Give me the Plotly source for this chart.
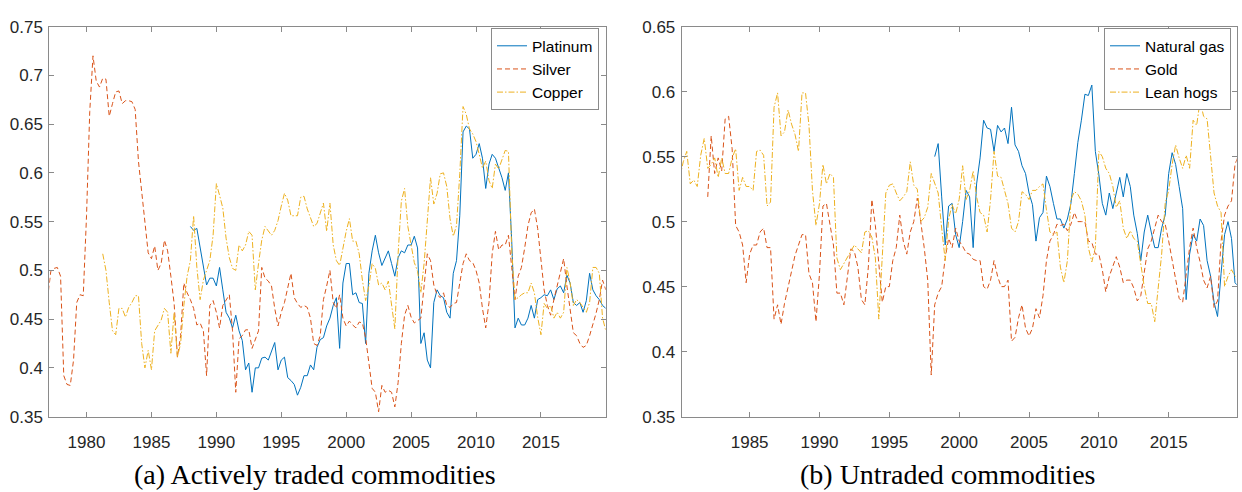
import pandas as pd
import plotly.graph_objects as go

# ---------------- data (quarterly readings) ----------------
silver_start = "1977-01-01"
silver = [
    0.471, 0.499, 0.502, 0.503,  # 1977
    0.494, 0.392, 0.383, 0.382,  # 1978
    0.408, 0.467, 0.475, 0.474,  # 1979
    0.556, 0.663, 0.720, 0.694,  # 1980
    0.688, 0.697, 0.696, 0.658,  # 1981
    0.671, 0.683, 0.684, 0.671,  # 1982
    0.674, 0.674, 0.673, 0.665,  # 1983
    0.612, 0.582, 0.548, 0.518,  # 1984
    0.512, 0.525, 0.500, 0.507,  # 1985
    0.531, 0.520, 0.494, 0.466,  # 1986
    0.411, 0.433, 0.487, 0.477,  # 1987
    0.470, 0.461, 0.444, 0.446,  # 1988
    0.438, 0.392, 0.464, 0.469,  # 1989
    0.457, 0.441, 0.464, 0.470,  # 1990
    0.475, 0.438, 0.375, 0.430,  # 1991
    0.433, 0.439, 0.439, 0.420,  # 1992
    0.430, 0.438, 0.503, 0.492,  # 1993
    0.489, 0.484, 0.461, 0.443,  # 1994
    0.457, 0.467, 0.482, 0.497,  # 1995
    0.472, 0.466, 0.462, 0.464,  # 1996
    0.462, 0.451, 0.425, 0.423,  # 1997
    0.433, 0.470, 0.484, 0.500,  # 1998
    0.467, 0.461, 0.475, 0.451,  # 1999
    0.443, 0.448, 0.444, 0.441,  # 2000
    0.447, 0.446, 0.431, 0.402,  # 2001
    0.379, 0.375, 0.355, 0.382,  # 2002
    0.375, 0.377, 0.375, 0.360,  # 2003
    0.385, 0.425, 0.454, 0.464,  # 2004
    0.452, 0.446, 0.449, 0.451,  # 2005
    0.484, 0.517, 0.510, 0.485,  # 2006
    0.475, 0.472, 0.477, 0.464,  # 2007
    0.462, 0.466, 0.467, 0.487,  # 2008
    0.507, 0.517, 0.510, 0.508,  # 2009
    0.500, 0.487, 0.461, 0.441,  # 2010
    0.467, 0.517, 0.540, 0.521,  # 2011
    0.526, 0.526, 0.536, 0.503,  # 2012
    0.470, 0.494, 0.503, 0.523,  # 2013
    0.546, 0.559, 0.563, 0.543,  # 2014
    0.513, 0.480, 0.464, 0.454,  # 2015
    0.470, 0.484, 0.500, 0.512,  # 2016
    0.484, 0.461, 0.436, 0.433,  # 2017
    0.425, 0.421, 0.423, 0.433,  # 2018
    0.444, 0.456, 0.470, 0.490,  # 2019
    0.480,
]

platinum_start = "1988-01-01"
platinum = [
    0.545, 0.541, 0.543, 0.523,  # 1988
    0.500, 0.485, 0.492, 0.492,  # 1989
    0.484, 0.503, 0.480, 0.457,  # 1990
    0.451, 0.441, 0.454, 0.438,  # 1991
    0.428, 0.398, 0.405, 0.375,  # 1992
    0.400, 0.400, 0.410, 0.411,  # 1993
    0.408, 0.416, 0.426, 0.398,  # 1994
    0.408, 0.411, 0.390, 0.387,  # 1995
    0.383, 0.372, 0.380, 0.392,  # 1996
    0.392, 0.403, 0.398, 0.421,  # 1997
    0.429, 0.431, 0.443, 0.451,  # 1998
    0.464, 0.472, 0.420, 0.487,  # 1999
    0.507, 0.507, 0.475, 0.477,  # 2000
    0.467, 0.466, 0.425, 0.497,  # 2001
    0.520, 0.536, 0.518, 0.505,  # 2002
    0.512, 0.520, 0.507, 0.494,  # 2003
    0.513, 0.520, 0.518, 0.526,  # 2004
    0.526, 0.535, 0.523, 0.425,  # 2005
    0.436, 0.408, 0.400, 0.467,  # 2006
    0.480, 0.474, 0.472, 0.457,  # 2007
    0.451, 0.497, 0.510, 0.556,  # 2008
    0.642, 0.648, 0.645, 0.615,  # 2009
    0.619, 0.630, 0.615, 0.584,  # 2010
    0.609, 0.619, 0.615, 0.605,  # 2011
    0.595, 0.582, 0.600, 0.530,  # 2012
    0.441, 0.451, 0.444, 0.444,  # 2013
    0.451, 0.464, 0.451, 0.470,  # 2014
    0.472, 0.475, 0.474, 0.480,  # 2015
    0.470, 0.481, 0.484, 0.477,  # 2016
    0.495, 0.487, 0.467, 0.464,  # 2017
    0.467, 0.457, 0.469, 0.497,  # 2018
    0.480, 0.474, 0.470, 0.464,  # 2019
    0.461,
]

copper_start = "1981-04-01"
copper = [
    0.517, 0.500, 0.467,         # 1981
    0.438, 0.434, 0.461, 0.461,  # 1982
    0.452, 0.462, 0.467, 0.474,  # 1983
    0.474, 0.425, 0.400, 0.418,  # 1984
    0.398, 0.438, 0.444, 0.449,  # 1985
    0.461, 0.457, 0.415, 0.457,  # 1986
    0.411, 0.425, 0.464, 0.494,  # 1987
    0.510, 0.556, 0.503, 0.470,  # 1988
    0.490, 0.499, 0.510, 0.536,  # 1989
    0.589, 0.577, 0.564, 0.533,  # 1990
    0.513, 0.502, 0.500, 0.526,  # 1991
    0.520, 0.526, 0.540, 0.536,  # 1992
    0.480, 0.507, 0.531, 0.545,  # 1993
    0.540, 0.536, 0.541, 0.551,  # 1994
    0.566, 0.579, 0.572, 0.556,  # 1995
    0.556, 0.556, 0.575, 0.576,  # 1996
    0.563, 0.554, 0.545, 0.548,  # 1997
    0.559, 0.569, 0.540, 0.569,  # 1998
    0.526, 0.510, 0.505, 0.523,  # 1999
    0.540, 0.553, 0.530, 0.530,  # 2000
    0.517, 0.490, 0.469, 0.484,  # 2001
    0.507, 0.502, 0.485, 0.487,  # 2002
    0.480, 0.489, 0.464, 0.440,  # 2003
    0.517, 0.571, 0.584, 0.545,  # 2004
    0.526, 0.508, 0.499, 0.477,  # 2005
    0.507, 0.549, 0.595, 0.568,  # 2006
    0.579, 0.599, 0.600, 0.586,  # 2007
    0.553, 0.535, 0.546, 0.599,  # 2008
    0.668, 0.660, 0.645, 0.640,  # 2009
    0.632, 0.619, 0.605, 0.612,  # 2010
    0.592, 0.584, 0.609, 0.604,  # 2011
    0.614, 0.623, 0.622, 0.520,  # 2012
    0.470, 0.472, 0.475, 0.477,  # 2013
    0.477, 0.487, 0.477, 0.452,  # 2014
    0.434, 0.466, 0.461, 0.464,  # 2015
    0.451, 0.457, 0.451, 0.457,  # 2016
    0.503, 0.487, 0.464, 0.470,  # 2017
    0.467, 0.462, 0.457, 0.467,  # 2018
    0.503, 0.503, 0.497, 0.451,  # 2019
    0.438,
]

natgas_start = "1998-04-01"
natural_gas = [
    0.550, 0.560, 0.519,         # 1998
    0.482, 0.512, 0.514, 0.490,  # 1999
    0.480, 0.500, 0.524, 0.519,  # 2000
    0.480, 0.529, 0.549, 0.578,  # 2001
    0.572, 0.571, 0.554, 0.574,  # 2002
    0.569, 0.572, 0.560, 0.588,  # 2003
    0.559, 0.554, 0.543, 0.537,  # 2004
    0.522, 0.513, 0.485, 0.503,  # 2005
    0.507, 0.535, 0.527, 0.514,  # 2006
    0.502, 0.502, 0.495, 0.502,  # 2007
    0.514, 0.537, 0.561, 0.578,  # 2008
    0.598, 0.597, 0.605, 0.554,  # 2009
    0.536, 0.514, 0.505, 0.522,  # 2010
    0.510, 0.522, 0.534, 0.519,  # 2011
    0.537, 0.527, 0.505, 0.491,  # 2012
    0.470, 0.492, 0.505, 0.492,  # 2013
    0.480, 0.480, 0.495, 0.505,  # 2014
    0.537, 0.553, 0.544, 0.527,  # 2015
    0.510, 0.440, 0.475, 0.490,  # 2016
    0.485, 0.502, 0.497, 0.470,  # 2017
    0.458, 0.438, 0.427, 0.460,  # 2018
    0.490, 0.500, 0.487, 0.453,  # 2019
    0.450,
]

gold_start = "1982-01-01"
gold = [
    0.519, 0.566, 0.537, 0.549,  # 1982
    0.539, 0.579, 0.581, 0.556,  # 1983
    0.497, 0.492, 0.482, 0.453,  # 1984
    0.475, 0.482, 0.482, 0.492,  # 1985
    0.495, 0.480, 0.480, 0.425,  # 1986
    0.436, 0.421, 0.437, 0.450,  # 1987
    0.463, 0.474, 0.482, 0.490,  # 1988
    0.490, 0.460, 0.453, 0.423,  # 1989
    0.460, 0.512, 0.514, 0.498,  # 1990
    0.482, 0.445, 0.445, 0.436,  # 1991
    0.458, 0.479, 0.477, 0.465,  # 1992
    0.440, 0.436, 0.465, 0.517,  # 1993
    0.497, 0.470, 0.438, 0.450,  # 1994
    0.450, 0.470, 0.480, 0.505,  # 1995
    0.485, 0.475, 0.492, 0.500,  # 1996
    0.518, 0.500, 0.480, 0.455,  # 1997
    0.382, 0.436, 0.445, 0.450,  # 1998
    0.472, 0.487, 0.480, 0.495,  # 1999
    0.485, 0.481, 0.476, 0.475,  # 2000
    0.471, 0.470, 0.470, 0.450,  # 2001
    0.448, 0.455, 0.470, 0.458,  # 2002
    0.450, 0.450, 0.455, 0.408,  # 2003
    0.411, 0.426, 0.436, 0.418,  # 2004
    0.412, 0.418, 0.433, 0.426,  # 2005
    0.443, 0.470, 0.485, 0.490,  # 2006
    0.498, 0.497, 0.498, 0.493,  # 2007
    0.498, 0.507, 0.500, 0.500,  # 2008
    0.500, 0.485, 0.484, 0.475,  # 2009
    0.475, 0.463, 0.446, 0.458,  # 2010
    0.465, 0.473, 0.465, 0.453,  # 2011
    0.455, 0.455, 0.449, 0.439,  # 2012
    0.443, 0.463, 0.479, 0.485,  # 2013
    0.495, 0.505, 0.500, 0.498,  # 2014
    0.485, 0.470, 0.455, 0.441,  # 2015
    0.438, 0.458, 0.480, 0.495,  # 2016
    0.480, 0.469, 0.455, 0.449,  # 2017
    0.458, 0.434, 0.439, 0.485,  # 2018
    0.505, 0.512, 0.516, 0.544,  # 2019
    0.551,
]

hogs_start = "1980-01-01"
lean_hogs = [
    0.534, 0.546, 0.554, 0.529,  # 1980
    0.532, 0.527, 0.551, 0.564,  # 1981
    0.541, 0.544, 0.549, 0.534,  # 1982
    0.549, 0.537, 0.537, 0.549,  # 1983
    0.556, 0.524, 0.534, 0.527,  # 1984
    0.527, 0.524, 0.554, 0.555,  # 1985
    0.551, 0.512, 0.515, 0.588,  # 1986
    0.599, 0.566, 0.569, 0.586,  # 1987
    0.575, 0.567, 0.554, 0.599,  # 1988
    0.599, 0.574, 0.524, 0.497,  # 1989
    0.514, 0.544, 0.529, 0.537,  # 1990
    0.534, 0.472, 0.463, 0.468,  # 1991
    0.472, 0.477, 0.482, 0.479,  # 1992
    0.476, 0.492, 0.493, 0.488,  # 1993
    0.472, 0.425, 0.475, 0.522,  # 1994
    0.528, 0.529, 0.522, 0.516,  # 1995
    0.519, 0.523, 0.546, 0.528,  # 1996
    0.525, 0.500, 0.503, 0.511,  # 1997
    0.537, 0.529, 0.522, 0.495,  # 1998
    0.470, 0.502, 0.513, 0.506,  # 1999
    0.517, 0.543, 0.517, 0.524,  # 2000
    0.539, 0.519, 0.507, 0.505,  # 2001
    0.492, 0.517, 0.554, 0.535,  # 2002
    0.534, 0.524, 0.514, 0.495,  # 2003
    0.492, 0.500, 0.523, 0.521,  # 2004
    0.517, 0.524, 0.524, 0.527,  # 2005
    0.529, 0.509, 0.492, 0.490,  # 2006
    0.492, 0.465, 0.453, 0.470,  # 2007
    0.517, 0.523, 0.521, 0.516,  # 2008
    0.505, 0.480, 0.469, 0.480,  # 2009
    0.554, 0.550, 0.541, 0.537,  # 2010
    0.527, 0.511, 0.516, 0.495,  # 2011
    0.487, 0.493, 0.487, 0.485,  # 2012
    0.468, 0.450, 0.437, 0.437,  # 2013
    0.423, 0.450, 0.475, 0.514,  # 2014
    0.524, 0.544, 0.559, 0.549,  # 2015
    0.541, 0.551, 0.541, 0.578,  # 2016
    0.574, 0.593, 0.581, 0.579,  # 2017
    0.549, 0.522, 0.512, 0.507,  # 2018
    0.450, 0.458, 0.463, 0.458,  # 2019
    0.458,
]

left_ticks = [1980, 1985, 1990, 1995, 2000, 2005, 2010, 2015]
right_ticks = [1985, 1990, 1995, 2000, 2005, 2010, 2015]
left_yticks = [0.35, 0.4, 0.45, 0.5, 0.55, 0.6, 0.65, 0.7, 0.75]
right_yticks = [0.35, 0.4, 0.45, 0.5, 0.55, 0.6, 0.65]
titles = ["(a) Actively traded commodities", "(b) Untraded commodities"]

# ---------------- styling ----------------
BLUE, RED, YEL = "#0072BD", "#D95319", "#EDB120"
AXC = "#8a8a8a"
TXT = "#262626"
SANS = "Liberation Sans, Arial, sans-serif"
SERIF = "Liberation Serif, Times New Roman, serif"


def dates(start, vals):
    return pd.date_range(start, periods=len(vals), freq="QS")


fig = go.Figure()
series = [
    ("Platinum", platinum_start, platinum, BLUE, "solid", "x", "y", "legend"),
    ("Silver", silver_start, silver, RED, "5px,3px", "x", "y", "legend"),
    ("Copper", copper_start, copper, YEL, "6px,2px,1.5px,2px", "x", "y", "legend"),
    ("Natural gas", natgas_start, natural_gas, BLUE, "solid", "x2", "y2", "legend2"),
    ("Gold", gold_start, gold, RED, "5px,3px", "x2", "y2", "legend2"),
    ("Lean hogs", hogs_start, lean_hogs, YEL, "6px,2px,1.5px,2px", "x2", "y2", "legend2"),
]
for name, st, vals, col, dash, xa, ya, lg in series:
    fig.add_trace(go.Scatter(
        x=dates(st, vals), y=vals, mode="lines", name=name,
        line=dict(color=col, width=1, dash=dash),
        xaxis=xa, yaxis=ya, legend=lg,
    ))

ydom = [1 - 424 / 492, 1 - 18.3 / 492]
common = dict(
    showgrid=False, zeroline=False, showline=True, mirror="ticks",
    linecolor=AXC, linewidth=1, ticks="inside", ticklen=5, tickcolor=AXC,
    tickfont=dict(family=SANS, size=17, color=TXT),
)

fig.update_layout(
    width=1242, height=492,
    margin=dict(l=0, r=0, t=0, b=0),
    paper_bgcolor="white", plot_bgcolor="white",
    xaxis=dict(domain=[49.3 / 1242, 605.7 / 1242], anchor="y",
               type="date", range=["1977-02-18", "2019-12-28"],
               tickvals=[f"{t}-01-01" for t in left_ticks],
               ticktext=[str(t) for t in left_ticks],
               ticklabelstandoff=10, **common),
    yaxis=dict(domain=ydom, anchor="x", range=[0.35, 0.75],
               tickvals=left_yticks, ticktext=[f"{v:g}" for v in left_yticks],
               ticklabelstandoff=2, **common),
    xaxis2=dict(domain=[681.7 / 1242, 1236.7 / 1242], anchor="y2",
                type="date", range=["1980-02-20", "2019-11-14"],
                tickvals=[f"{t}-01-01" for t in right_ticks],
                ticktext=[str(t) for t in right_ticks],
                ticklabelstandoff=10, **common),
    yaxis2=dict(domain=ydom, anchor="x2", range=[0.35, 0.65],
                tickvals=right_yticks, ticktext=[f"{v:g}" for v in right_yticks],
                ticklabelstandoff=2, **common),
    legend=dict(x=599 / 1242, y=1 - 20 / 492, xanchor="right", yanchor="top",
                bgcolor="white", bordercolor=AXC, borderwidth=1,
                font=dict(family=SANS, size=15.5, color="black"),
                tracegroupgap=0, itemwidth=30),
    legend2=dict(x=1231 / 1242, y=1 - 20 / 492, xanchor="right", yanchor="top",
                 bgcolor="white", bordercolor=AXC, borderwidth=1,
                 font=dict(family=SANS, size=15.5, color="black"),
                 tracegroupgap=0, itemwidth=30),
    showlegend=True,
    annotations=[
        dict(text=titles[0], x=315 / 1242, y=1 - 484 / 492, xref="paper", yref="paper",
             xanchor="center", yanchor="middle", showarrow=False,
             font=dict(family=SERIF, size=28, color="black")),
        dict(text=titles[1], x=947.5 / 1242, y=1 - 484 / 492, xref="paper", yref="paper",
             xanchor="center", yanchor="middle", showarrow=False,
             font=dict(family=SERIF, size=28, color="black")),
    ],
)

fig.write_html("out.html")
